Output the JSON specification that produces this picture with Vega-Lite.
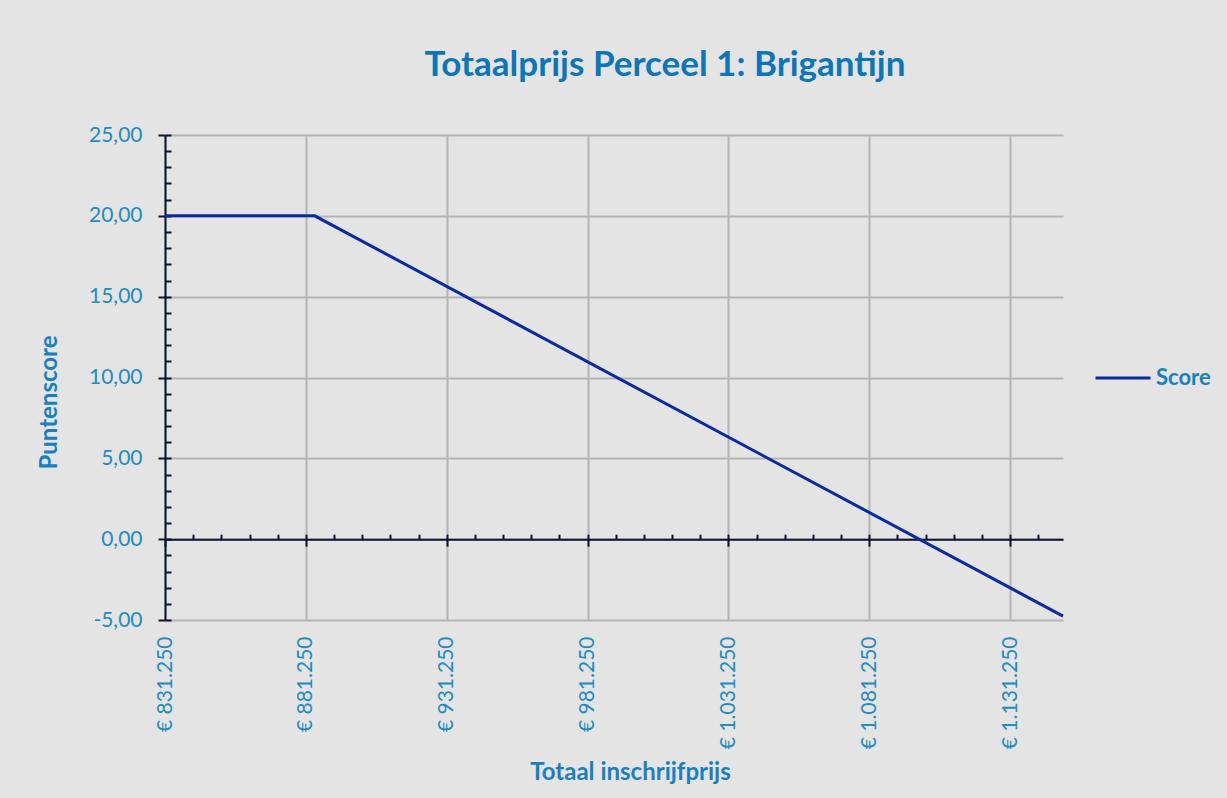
{
  "$schema": "https://vega.github.io/schema/vega-lite/v6.json",
  "width": 898,
  "height": 485,
  "autosize": {"type": "none"},
  "padding": {"left": 165, "top": 135, "right": 164, "bottom": 178},
  "background": "#e4e4e4",
  "config": {
    "locale": {"number": {"decimal": ",", "thousands": ".", "grouping": [3], "currency": ["€ ", ""], "minus": "-"}},
    "view": {"stroke": null},
    "font": "Lato"
  },
  "title": {
    "text": "Totaalprijs Perceel 1: Brigantijn",
    "fontSize": 35,
    "font": "Lato",
    "fontWeight": "bold",
    "color": "#0e75b6",
    "anchor": "middle",
    "dx": 51,
    "offset": 41
  },
  "data": {
    "values": [
      {"prijs": 831250, "score": 20, "reeks": "Score"},
      {"prijs": 884400, "score": 20, "reeks": "Score"},
      {"prijs": 1150000, "score": -4.76, "reeks": "Score"}
    ]
  },
  "layer": [
    {
      "mark": {"type": "line", "strokeWidth": 3},
      "encoding": {
        "x": {
          "field": "prijs", "type": "quantitative",
          "scale": {"domain": [831250, 1150000], "nice": false, "zero": false},
          "axis": {
            "orient": "bottom",
            "values": [831250, 881250, 931250, 981250, 1031250, 1081250, 1131250],
            "format": "$,.0f",
            "labelAngle": -90, "labelAlign": "right", "labelBaseline": "middle",
            "labelPadding": 16, "labelFontSize": 21, "labelColor": "#228bc0", "labelFont": "Lato",
            "domain": false, "ticks": false,
            "grid": true, "gridColor": "#b4b4b4", "gridWidth": 2,
            "title": "Totaal inschrijfprijs", "titleFontSize": 24, "titleFontWeight": "bold",
            "titleColor": "#1a80bb", "titleFont": "Lato", "titlePadding": 12, "titleX": 465
          }
        },
        "y": {
          "field": "score", "type": "quantitative",
          "scale": {"domain": [-5, 25], "nice": false, "zero": false},
          "axis": {
            "orient": "left",
            "values": [-5, 0, 5, 10, 15, 20, 25],
            "format": ".2f",
            "labelPadding": 16, "labelFontSize": 21, "labelColor": "#228bc0", "labelFont": "Lato",
            "domain": true, "domainColor": "#0a1530", "domainWidth": 2,
            "ticks": true, "tickSize": 7, "tickColor": "#0a1530", "tickWidth": 2,
            "grid": true, "gridColor": "#b4b4b4", "gridWidth": 2,
            "title": "Puntenscore", "titleFontSize": 24, "titleFontWeight": "bold",
            "titleColor": "#1a80bb", "titleFont": "Lato", "titlePadding": 27, "titleY": 267
          }
        },
        "color": {
          "field": "reeks", "type": "nominal",
          "scale": {"range": ["#0a2aa0"]},
          "legend": {
            "title": null, "orient": "none", "legendX": 929, "legendY": 214,
            "symbolType": "stroke", "symbolSize": 3025, "symbolStrokeWidth": 3,
            "labelFontSize": 22, "labelFontWeight": "bold", "labelColor": "#1a80bb",
            "labelFont": "Lato", "labelOffset": 4
          }
        }
      }
    },
    {
      "mark": {"type": "line", "strokeOpacity": 0},
      "encoding": {
        "x": {
          "field": "prijs", "type": "quantitative",
          "scale": {"domain": [831250, 1150000], "nice": false, "zero": false},
          "axis": {
            "orient": "bottom", "offset": -80.83,
            "values": [831250, 881250, 931250, 981250, 1031250, 1081250, 1131250],
            "labels": false, "grid": false, "title": null,
            "domain": true, "domainColor": "#0a1530", "domainWidth": 2,
            "ticks": true, "tickSize": 7, "tickColor": "#0a1530", "tickWidth": 2
          }
        },
        "y": {
          "field": "score", "type": "quantitative",
          "scale": {"domain": [-5, 25], "nice": false, "zero": false},
          "axis": null
        }
      }
    },
    {
      "mark": {"type": "line", "strokeOpacity": 0},
      "encoding": {
        "x": {
          "field": "prijs", "type": "quantitative",
          "scale": {"domain": [831250, 1150000], "nice": false, "zero": false},
          "axis": {
            "orient": "top", "offset": -404.17,
            "values": [841250, 851250, 861250, 871250, 881250, 891250, 901250, 911250, 921250, 931250, 941250, 951250, 961250, 971250, 981250, 991250, 1001250, 1011250, 1021250, 1031250, 1041250, 1051250, 1061250, 1071250, 1081250, 1091250, 1101250, 1111250, 1121250, 1131250, 1141250],
            "labels": false, "grid": false, "title": null, "domain": false,
            "ticks": true, "tickSize": 5, "tickColor": "#0a1530", "tickWidth": 2
          }
        },
        "y": {
          "field": "score", "type": "quantitative",
          "scale": {"domain": [-5, 25], "nice": false, "zero": false},
          "axis": null
        }
      }
    },
    {
      "mark": {"type": "line", "strokeOpacity": 0},
      "encoding": {
        "x": {
          "field": "prijs", "type": "quantitative",
          "scale": {"domain": [831250, 1150000], "nice": false, "zero": false},
          "axis": null
        },
        "y": {
          "field": "score", "type": "quantitative",
          "scale": {"domain": [-5, 25], "nice": false, "zero": false},
          "axis": {
            "orient": "right", "offset": -898,
            "values": [-5, -4, -3, -2, -1, 0, 1, 2, 3, 4, 5, 6, 7, 8, 9, 10, 11, 12, 13, 14, 15, 16, 17, 18, 19, 20, 21, 22, 23, 24, 25],
            "labels": false, "grid": false, "title": null, "domain": false,
            "ticks": true, "tickSize": 6, "tickColor": "#0a1530", "tickWidth": 2
          }
        }
      }
    }
  ],
  "resolve": {"axis": {"x": "independent", "y": "independent"}}
}
